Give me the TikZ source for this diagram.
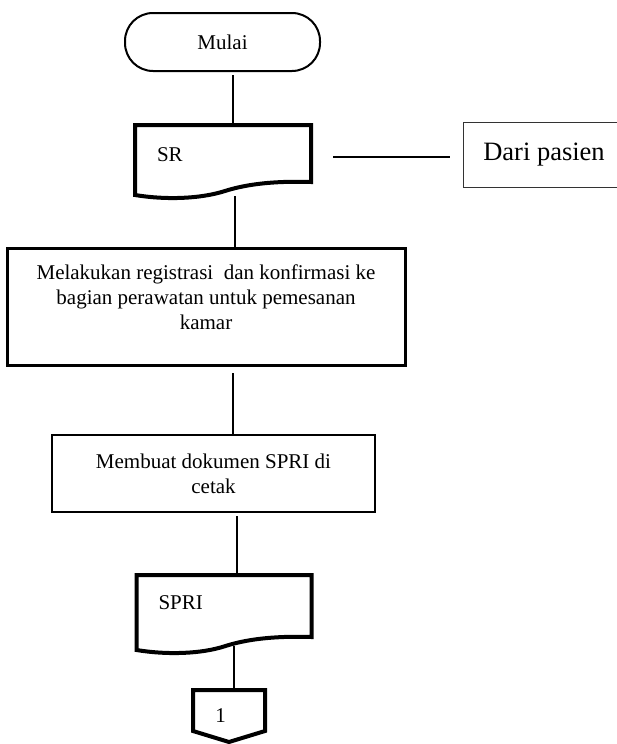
\documentclass[tikz,border=0pt]{standalone}
\usepackage{fontspec}
\setmainfont{Liberation Serif}
\newcommand\mydocshape[2]{%
  \draw[line width=#2, line join=miter]
    (#1.north west) -- (#1.north east) -- ([yshift=13pt]#1.south east)
    .. controls ([xshift=-31pt,yshift=14pt]#1.south east) and ([xshift=-61pt,yshift=12pt]#1.south east)
    .. ([xshift=-86pt,yshift=4pt]#1.south east)
    .. controls ([xshift=65pt,yshift=-4pt]#1.south west) and ([xshift=30pt,yshift=-5pt]#1.south west)
    .. (#1.south west) -- cycle;}
\begin{document}
\begin{tikzpicture}[x=1pt,y=-1pt,
  base/.style={font=\fontsize{21}{25}\selectfont, inner sep=0pt, outer sep=0pt},
  term/.style={base, draw, line width=2pt, rounded corners=28pt, minimum width=195pt, minimum height=58pt},
  proc/.style={base, draw, align=center},
  docbox/.style={base, align=left, inner xsep=22pt},
  conn/.style={line width=1.2pt},
  note/.style={draw=black!80, line width=1pt, inner sep=0pt, outer sep=0pt, font=\fontsize{26.5}{30}\selectfont}]
\useasboundingbox (0,0) rectangle (617,744);
\coordinate (axis) at (233,0);

\node[term] (mulai) at (222.5,42) {Mulai};

\node[docbox, text width=132pt, minimum height=70pt, text depth=10pt] (sr) at (223,160) {SR};
\mydocshape{sr}{4pt}

\node[note, minimum width=162pt, minimum height=65pt] (dari) at (544,154.5) {Dari pasien};

\node[proc, line width=3pt, minimum width=398pt, minimum height=117pt, text depth=19pt] (p1) at (206,306.5)
  {Melakukan registrasi\ \ dan konfirmasi ke\\ bagian perawatan untuk pemesanan\\ kamar};

\node[proc, line width=2.5pt, minimum width=323pt, minimum height=77pt] (p2) at (213.5,473.5)
  {Membuat dokumen SPRI di\\ cetak};

\node[docbox, text width=131pt, minimum height=75pt, text depth=19pt] (spri) at (224,612.5) {SPRI};
\mydocshape{spri}{4pt}

\node[base, minimum width=72pt, minimum height=52pt] (c1) at (229,716) {1\rule{17pt}{0pt}};
\draw[line width=4pt, line join=miter]
  (c1.north west) -- (c1.north east) -- ([yshift=11pt]c1.south east) -- (c1.south)
  -- ([yshift=11pt]c1.south west) -- cycle;

\draw[conn, shorten <=4pt] (mulai.south -| axis) -- (sr.north -| axis);
\draw[conn, shorten <=22pt, shorten >=13pt] (sr.east |- 0,157) -- (dari.west |- 0,157);
\draw[conn, shorten <=1pt] ([xshift=2pt]sr.south -| axis) -- ([xshift=2pt]p1.north -| axis);
\draw[conn, shorten <=8pt] (p1.south -| axis) -- (p2.north -| axis);
\draw[conn, shorten <=4pt] ([xshift=4pt]p2.south -| axis) -- ([xshift=4pt]spri.north -| axis);
\draw[conn, shorten <=-4pt] ([xshift=1pt]spri.south -| axis) -- ([xshift=1pt]c1.north -| axis);
\end{tikzpicture}
\end{document}
